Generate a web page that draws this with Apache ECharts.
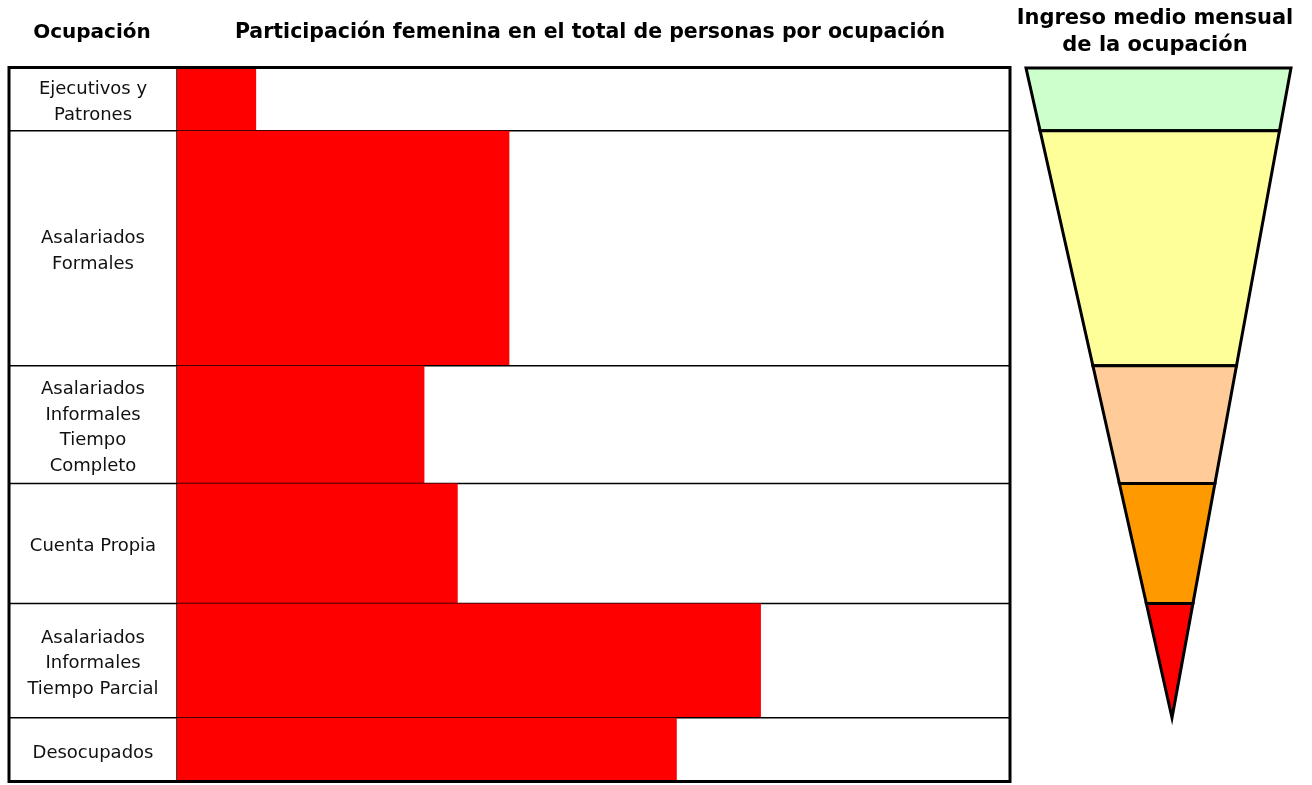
<!DOCTYPE html>
<html>
<head>
<meta charset="utf-8">
<script src="https://cdn.jsdelivr.net/npm/echarts@6/dist/echarts.min.js"></script>
<style>
  html, body { margin: 0; padding: 0; background: #fff; }
  #main { width: 1312px; height: 785px; }
</style>
</head>
<body>
<div id="main"></div>
<script>
// ocupaciones (filas), de arriba hacia abajo
const occupations = [
  "Ejecutivos y\nPatrones",
  "Asalariados\nFormales",
  "Asalariados\nInformales\nTiempo\nCompleto",
  "Cuenta Propia",
  "Asalariados\nInformales\nTiempo Parcial",
  "Desocupados",
];
// peso de cada ocupación en el total (alto de la fila, %)
const employmentShare = [8.8, 32.9, 16.5, 16.8, 16.0, 9.0];
// participación femenina en la ocupación (%)
const femaleShare = [9.5, 39.9, 29.7, 33.7, 70.1, 60.0];
// embudo de ingreso: un tramo por ocupación ocupada (sin desocupados)
const incomeRank = [1, 2, 3, 4, 5];

const incomeColors = ["#ccffcc", "#ffff99", "#ffcc99", "#ff9900", "#ff0000"];
const FONT = '"DejaVu Sans", sans-serif';
const APEX_X = 0.551; // posición horizontal del vértice del embudo

// límites acumulados de cada fila
let acc = 0;
const rows = employmentShare.map((s, i) => {
  const start = acc;
  acc += s;
  return [start, acc, femaleShare[i], i];
});
const total = acc;
const funnelRows = incomeRank.map((r, i) => [rows[i][0], rows[i][1], r - 1]);
const apex = funnelRows[funnelRows.length - 1][1];

const chart = echarts.init(document.getElementById("main"));

const option = {
  animation: false,
  backgroundColor: "#fff",
  grid: [
    { left: 9, width: 168, top: 68, height: 714 },   // columna de ocupación
    { left: 177, width: 833, top: 68, height: 714 }, // barras
    { left: 1026, width: 265, top: 68, height: 714 }, // embudo
  ],
  xAxis: [
    { gridIndex: 0, type: "value", min: 0, max: 1, show: false },
    { gridIndex: 1, type: "value", min: 0, max: 100, show: false },
    { gridIndex: 2, type: "value", min: 0, max: 1, show: false },
  ],
  yAxis: [0, 1, 2].map((g) => ({
    gridIndex: g, type: "value", inverse: true, min: 0, max: total, show: false,
  })),
  graphic: [
    {
      type: "text", z: 10,
      style: { text: "Ocupación", x: 92, y: 33, align: "center", verticalAlign: "middle",
        font: "bold 20px " + FONT, fill: "#000" },
    },
    {
      type: "text", z: 10,
      style: { text: "Participación femenina en el total de personas por ocupación", x: 590, y: 33,
        align: "center", verticalAlign: "middle", font: "bold 20.5px " + FONT, fill: "#000" },
    },
    {
      type: "text", z: 10,
      style: { text: "Ingreso medio mensual\nde la ocupación", x: 1155, y: 32, lineHeight: 27,
        align: "center", verticalAlign: "middle", font: "bold 21px " + FONT, fill: "#000" },
    },
    {
      // marco de la tabla
      type: "rect", z: 20, silent: true,
      shape: { x: 9, y: 67.5, width: 1001, height: 714 },
      style: { fill: null, stroke: "#000", lineWidth: 3 },
    },
  ],
  series: [
    {
      type: "custom",
      xAxisIndex: 0, yAxisIndex: 0,
      data: rows,
      renderItem: function (params, api) {
        const y0 = api.value(0), y1 = api.value(1);
        const a = api.coord([0, y0]);
        const b = api.coord([1, y1]);
        return {
          type: "group",
          children: [
            {
              type: "text",
              style: {
                text: occupations[api.value(3)],
                x: (a[0] + b[0]) / 2, y: (a[1] + b[1]) / 2 + 3,
                align: "center", verticalAlign: "middle",
                font: "18px " + FONT, lineHeight: 25.5, fill: "#111",
              },
            },
            {
              type: "line",
              shape: { x1: a[0], y1: b[1], x2: b[0], y2: b[1] },
              style: { stroke: "#000", lineWidth: 1.5 },
            },
            {
              type: "line",
              shape: { x1: b[0], y1: a[1], x2: b[0], y2: b[1] },
              style: { stroke: "#000", lineWidth: 1.5 },
            },
          ],
        };
      },
    },
    {
      type: "custom",
      xAxisIndex: 1, yAxisIndex: 1,
      data: rows,
      renderItem: function (params, api) {
        const y0 = api.value(0), y1 = api.value(1), p = api.value(2);
        const a = api.coord([0, y0]);
        const b = api.coord([p, y1]);
        const c = api.coord([100, y1]);
        return {
          type: "group",
          children: [
            {
              type: "rect",
              shape: { x: a[0], y: a[1], width: b[0] - a[0], height: b[1] - a[1] },
              style: { fill: "#ff0000" },
            },
            {
              type: "line",
              shape: { x1: a[0], y1: c[1], x2: c[0], y2: c[1] },
              style: { stroke: "#000", lineWidth: 1.5 },
            },
          ],
        };
      },
    },
    {
      type: "custom",
      xAxisIndex: 2, yAxisIndex: 2,
      data: funnelRows,
      renderItem: function (params, api) {
        const y0 = api.value(0), y1 = api.value(1);
        const t0 = y0 / apex, t1 = y1 / apex;
        const pts = [
          api.coord([t0 * APEX_X, y0]), api.coord([1 - t0 * (1 - APEX_X), y0]),
          api.coord([1 - t1 * (1 - APEX_X), y1]), api.coord([t1 * APEX_X, y1]),
        ];
        return {
          type: "polygon",
          shape: { points: pts },
          style: { fill: incomeColors[api.value(2)], stroke: "#000", lineWidth: 3, lineJoin: "miter" },
        };
      },
    },
  ],
};

chart.setOption(option);
</script>
</body>
</html>
